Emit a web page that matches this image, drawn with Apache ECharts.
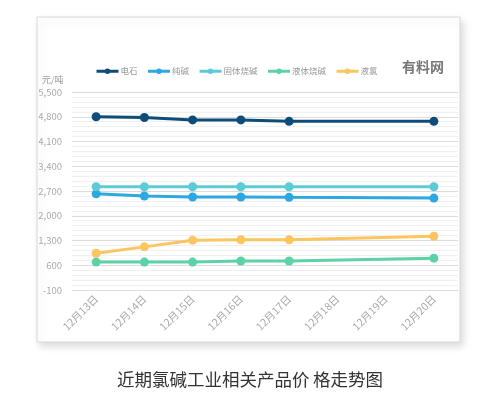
<!DOCTYPE html>
<html><head><meta charset="utf-8">
<script src="https://cdn.jsdelivr.net/npm/echarts@6/dist/echarts.min.js"></script>
<style>html,body{margin:0;padding:0;background:#fff;}#c{width:500px;height:395px;}</style>
</head><body><div id="c"></div>
<script>
const categories = ['12月13日','12月14日','12月15日','12月16日','12月17日','12月18日','12月19日','12月20日'];
const seriesNames = ['电石','纯碱','固体烧碱','液体烧碱','液氯'];
const dianshi = [4800, 4780, 4710, 4710, 4670, null, null, 4670];
const chunjian = [2620, 2560, 2530, 2530, 2520, null, null, 2500];
const gutiShaojian = [2820, 2820, 2820, 2820, 2820, null, null, 2820];
const yetiShaojian = [690, 690, 690, 720, 720, null, null, 800];
const yelv = [940, 1120, 1310, 1320, 1320, null, null, 1420];
const colors = ['#0e4d7a','#2da8e0','#5ccbd6','#5dd3a5','#fcc55e'];
const seriesData = [dianshi, chunjian, gutiShaojian, yetiShaojian, yelv];

const chart = echarts.init(document.getElementById('c'), null, {renderer:'canvas'});
const font = '"Noto Sans CJK SC","Noto Sans",sans-serif';
chart.setOption({
  animation:false,
  textStyle:{fontFamily:font},
  graphic:[
    {type:'rect', z:-10, shape:{x:37,y:17,width:423,height:325}, style:{fill:'#fff',stroke:'#d8d8d8',lineWidth:1,shadowBlur:8,shadowOffsetX:3,shadowOffsetY:4,shadowColor:'rgba(0,0,0,0.15)'}},
    {type:'text', left:402, top:60, style:{text:'有料网', fill:'#777', font:'bold 14px '+font}},
    {type:'text', left:42, top:75, style:{text:'元/吨', fill:'#999', font:'9px '+font}},
    {type:'text', left:'center', top:371, style:{text:'近期氯碱工业相关产品价\u2009格走势图', fill:'#333', font:'17.5px '+font}}
  ],
  legend:{
    left:90, top:62, itemWidth:22, itemHeight:7, itemGap:9,
    itemStyle:{borderWidth:0},
    lineStyle:{width:3},
    textStyle:{fontSize:8.5, color:'#999', padding:[0,0,0,-3]},
    data:seriesNames
  },
  grid:{left:72, right:42, top:92, bottom:105},
  xAxis:{
    type:'category', data:categories, boundaryGap:true,
    axisLine:{onZero:false, lineStyle:{color:'#ddd'}},
    axisTick:{show:false},
    axisLabel:{rotate:45, fontSize:10.5, color:'#aaa', margin:7}
  },
  yAxis:{
    type:'value', min:-100, max:5500, interval:700,
    axisLine:{show:false}, axisTick:{show:false},
    axisLabel:{fontSize:9.5, color:'#aaa', margin:10, formatter:v=>v.toLocaleString('en-US')},
    splitLine:{lineStyle:{color:'#dcdcdc'}},
    minorTick:{show:false, splitNumber:5},
    minorSplitLine:{show:true, lineStyle:{color:'#f0f0f0'}}
  },
  series: seriesNames.map((n,i)=>({
    name:n, type:'line', data:seriesData[i], connectNulls:true,
    symbol:'circle', symbolSize:9, showSymbol:true,
    lineStyle:{width:3, color:colors[i]}, itemStyle:{color:colors[i]}
  }))
});
</script></body></html>
